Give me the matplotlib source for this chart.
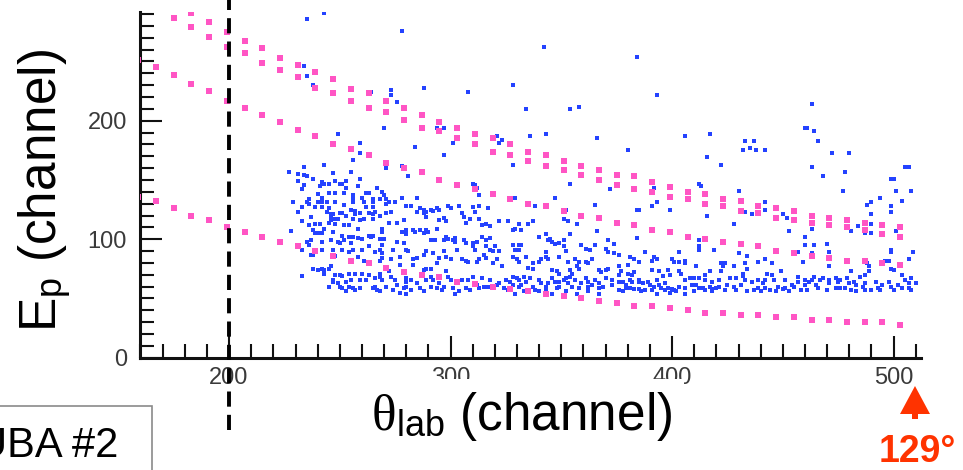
import matplotlib
matplotlib.use("Agg")
import matplotlib.pyplot as plt
from matplotlib.patches import Rectangle, Polygon
from matplotlib.ticker import MultipleLocator

plt.rcParams['font.family'] = ['Liberation Sans', 'DejaVu Sans']
plt.rcParams['mathtext.fontset'] = 'custom'
plt.rcParams['mathtext.sf'] = 'Liberation Sans'
plt.rcParams['mathtext.rm'] = 'Liberation Serif'
plt.rcParams['mathtext.it'] = 'Liberation Serif:italic'

# --- kinematic lines (theta channel columns, energy channel) ---
col_x = [159, 167, 175, 183, 191, 199, 207, 215, 223, 231, 239, 247, 255, 263,
         271, 279, 287, 295, 303, 311, 319, 327, 335, 343, 351, 359, 367, 375,
         383, 391, 399, 407, 415, 423, 431, 439, 447, 455, 463, 471, 479, 487,
         495, 503]

line_a_hi = [291, 283, 275, 267, 261, 253, 247, 241, 235, 227, 223, 217, 211, 205,
             199, 194, 189, 185, 180, 174, 171, 166, 162, 158, 154, 153, 148, 144,
             140, 138, 134, 132, 128, 126, 124, 120, 118, 116, 114, 112, 110]
line_a_lo = [287, 279, 271, 262, 257, 249, 243, 237, 228, 223, 217, 211, 207, 201,
             194, 191, 185, 180, 174, 171, 166, 162, 158, 154, 150, 146, 142, 140,
             136, 134, 130, 128, 124, 122, 118, 116, 114, 112, 110, 108, 104, 102]
line_b = [251, 245, 239, 231, 225, 217, 211, 205, 199, 192, 187, 180, 176, 171,
          164, 160, 157, 150, 146, 142, 138, 134, 130, 128, 124, 120, 118, 114,
          112, 108, 106, 102, 100, 98, 96, 94, 90, 88, 86, 84, 82, 82, 80, 78]
line_c = [136, 132, 126, 120, 116, 110, 106, 102, 98, 94, 90, 86, 82, 80,
          76, 72, 70, 68, 64, 62, 60, 58, 56, 54, 52, 50, 48, 46,
          44, 44, 42, 40, 38, 38, 36, 36, 34, 34, 32, 32, 30, 30, 30, 28]

# --- measured events (theta channel, energy channel) ---
hits_227_272 = [
    (243, 163), (234, 161), (227, 157), (231, 155), (234, 154), (235, 153), (247, 156), (255, 157),
    (259, 151), (231, 149), (238, 151), (242, 148), (243, 147), (245, 147), (248, 149), (250, 147),
    (251, 147), (253, 149), (234, 146), (241, 145), (258, 145), (233, 142), (253, 143), (267, 143),
    (240, 138), (245, 139), (248, 139), (252, 139), (256, 137), (256, 135), (262, 139), (263, 139),
    (269, 140), (270, 137), (260, 135), (236, 134), (242, 135), (271, 134), (229, 131), (235, 131),
    (236, 130), (240, 131), (242, 131), (244, 131), (248, 131), (252, 129), (256, 131), (261, 131),
    (265, 134), (265, 131), (268, 134), (271, 130), (272, 131), (233, 127), (239, 127), (242, 127),
    (245, 126), (255, 125), (262, 127), (265, 127), (231, 123), (244, 123), (246, 121), (247, 121),
    (250, 122), (251, 122), (257, 124), (257, 121), (259, 122), (263, 122), (265, 121), (266, 123),
    (268, 120), (271, 122), (237, 119), (246, 118), (248, 117), (249, 117), (253, 120), (256, 117),
    (259, 116), (261, 117), (265, 117), (233, 115), (236, 112), (239, 113), (241, 113), (245, 114),
    (246, 116), (248, 113), (252, 112), (254, 112), (258, 109), (269, 109), (269, 106), (272, 114),
    (228, 107), (238, 108), (239, 105), (240, 105), (242, 105), (243, 109), (247, 106), (251, 103),
    (254, 102), (256, 102), (258, 101), (263, 103), (264, 102), (265, 103), (260, 100), (268, 100),
    (270, 100), (235, 98), (237, 99), (242, 98), (246, 99), (249, 98), (250, 97), (252, 99),
    (255, 97), (263, 94), (269, 95), (233, 91), (236, 95), (237, 87), (238, 87), (242, 91),
    (247, 91), (251, 91), (254, 89), (256, 91), (260, 91), (266, 89), (268, 91), (269, 88),
    (247, 87), (248, 86), (258, 85), (261, 82), (268, 82), (269, 84), (238, 75), (240, 74),
    (242, 75), (243, 74), (245, 75), (246, 77), (233, 69), (243, 71), (248, 70), (250, 70),
    (251, 69), (254, 71), (257, 71), (260, 71), (263, 70), (268, 71), (268, 68), (272, 73),
    (247, 66), (247, 64), (249, 63), (253, 64), (255, 66), (259, 66), (262, 66), (266, 67),
    (269, 66), (245, 60), (250, 60), (251, 59), (254, 60), (256, 59), (257, 57), (259, 59),
    (265, 59), (266, 60), (267, 57), (268, 56), (271, 60), (253, 56),
]
hits_273_321 = [
    (285, 135), (278, 135), (275, 131), (280, 128), (282, 128), (285, 123), (286, 126), (288, 125),
    (289, 123), (291, 125), (292, 124), (288, 122), (289, 119), (294, 126), (295, 125), (299, 128),
    (300, 126), (304, 128), (305, 122), (306, 119), (310, 127), (311, 123), (313, 128), (317, 126),
    (313, 137), (311, 146), (273, 123), (276, 114), (279, 116), (295, 116), (297, 118), (298, 115),
    (307, 114), (309, 117), (313, 117), (314, 112), (316, 113), (318, 111), (280, 108), (278, 106),
    (283, 108), (284, 106), (286, 108), (288, 105), (289, 108), (290, 106), (294, 109), (297, 99),
    (298, 102), (299, 100), (301, 99), (302, 98), (302, 101), (306, 99), (307, 97), (310, 97),
    (312, 98), (314, 102), (316, 99), (318, 101), (291, 99), (293, 99), (280, 104), (279, 97),
    (280, 91), (281, 90), (276, 98), (274, 91), (277, 85), (283, 83), (285, 84), (288, 87),
    (289, 90), (292, 88), (295, 84), (297, 90), (298, 85), (300, 83), (303, 91), (305, 83),
    (307, 82), (308, 81), (310, 94), (312, 81), (313, 83), (315, 87), (316, 94), (318, 91),
    (319, 90), (320, 94), (321, 83), (316, 84), (319, 80), (311, 91), (294, 80), (291, 75),
    (289, 75), (288, 74), (283, 78), (277, 78), (273, 83), (280, 67), (280, 64), (280, 60),
    (279, 59), (276, 61), (274, 57), (282, 66), (289, 66), (291, 68), (292, 66), (295, 63),
    (297, 60), (296, 57), (294, 59), (298, 73), (299, 68), (300, 66), (301, 59), (305, 66),
    (307, 59), (309, 57), (312, 61), (313, 59), (315, 60), (317, 60), (318, 60), (319, 59),
    (321, 61), (282, 57), (288, 56), (302, 54), (304, 56), (280, 54), (291, 60), (286, 59),
    (285, 63), (310, 68), (308, 66), (314, 67), (318, 66), (275, 66), (273, 68), (277, 55),
]
hits_322_370 = [
    (354, 147), (329, 135), (347, 135), (338, 128), (365, 129), (352, 125), (351, 117), (353, 115),
    (357, 113), (366, 107), (354, 104), (322, 115), (326, 115), (328, 108), (329, 109), (331, 113),
    (332, 108), (335, 113), (337, 115), (340, 102), (343, 104), (344, 99), (346, 98), (347, 96),
    (345, 100), (349, 97), (351, 99), (351, 94), (352, 90), (359, 95), (361, 92), (363, 91),
    (365, 95), (370, 92), (328, 95), (331, 95), (332, 95), (329, 91), (331, 91), (322, 90),
    (328, 85), (330, 83), (331, 81), (334, 85), (323, 77), (335, 76), (337, 80), (337, 75),
    (340, 81), (341, 83), (343, 89), (343, 85), (344, 83), (349, 85), (346, 74), (348, 73),
    (349, 71), (353, 81), (354, 74), (355, 71), (356, 83), (357, 77), (358, 81), (361, 81),
    (362, 80), (364, 83), (367, 74), (368, 72), (370, 74), (358, 75), (325, 66), (327, 64),
    (328, 68), (330, 67), (331, 66), (333, 68), (334, 64), (336, 67), (322, 63), (324, 59),
    (328, 61), (331, 60), (332, 61), (337, 60), (338, 57), (340, 66), (341, 63), (343, 60),
    (344, 63), (346, 67), (347, 64), (348, 59), (349, 60), (351, 66), (352, 67), (353, 63),
    (355, 60), (356, 66), (358, 59), (359, 63), (361, 67), (362, 64), (362, 60), (364, 61),
    (365, 66), (367, 63), (367, 59), (369, 60), (370, 67), (329, 54), (333, 56), (340, 56),
    (346, 54), (352, 56), (357, 54), (362, 56), (367, 54), (326, 57), (335, 57), (343, 56),
    (349, 64), (354, 68),
]
hits_371_418 = [
    (393, 131), (391, 128), (384, 125), (385, 125), (399, 125), (416, 120), (384, 101), (371, 99),
    (374, 96), (371, 89), (374, 88), (376, 87), (388, 89), (392, 85), (393, 83), (391, 82),
    (383, 83), (385, 81), (381, 85), (400, 83), (401, 81), (403, 81), (403, 89), (406, 82),
    (406, 80), (412, 91), (412, 94), (411, 77), (371, 75), (376, 77), (377, 73), (376, 70),
    (380, 78), (380, 71), (382, 70), (383, 72), (391, 74), (394, 73), (398, 74), (399, 70),
    (396, 69), (393, 66), (403, 73), (404, 71), (406, 66), (408, 67), (410, 67), (412, 67),
    (415, 66), (415, 70), (417, 73), (418, 64), (373, 66), (376, 64), (378, 64), (379, 61),
    (379, 59), (381, 66), (382, 64), (385, 66), (385, 64), (387, 63), (389, 64), (390, 61),
    (392, 60), (394, 61), (395, 59), (397, 63), (398, 59), (400, 58), (401, 57), (402, 56),
    (403, 60), (406, 59), (409, 61), (411, 61), (412, 59), (414, 59), (415, 57), (417, 60),
    (418, 58), (373, 61), (376, 57), (378, 56), (381, 59), (383, 58), (386, 56), (388, 57),
    (391, 57), (393, 54), (397, 57), (399, 55), (406, 54), (410, 56), (418, 56), (385, 58),
]
hits_419_467 = [
    (442, 131), (442, 125), (433, 123), (450, 121), (452, 118), (428, 113), (453, 107), (463, 109),
    (460, 102), (460, 95), (464, 95), (419, 91), (430, 88), (434, 86), (439, 81), (442, 83),
    (445, 80), (457, 89), (463, 88), (459, 81), (422, 80), (423, 77), (424, 80), (428, 77),
    (433, 80), (434, 75), (432, 71), (433, 66), (432, 69), (426, 67), (425, 61), (428, 60),
    (422, 73), (421, 66), (421, 60), (431, 61), (436, 64), (437, 57), (439, 59), (442, 59),
    (443, 71), (442, 66), (445, 70), (446, 66), (448, 60), (449, 73), (451, 66), (451, 59),
    (454, 61), (455, 60), (457, 64), (457, 68), (460, 66), (462, 64), (463, 66), (464, 68),
    (465, 61), (466, 59), (467, 66), (429, 67), (439, 66), (441, 63), (444, 57), (450, 58),
    (458, 57), (461, 57), (424, 57), (434, 56), (440, 56), (447, 56), (453, 56), (460, 61),
    (429, 57), (420, 59),
]
hits_468_510 = [
    (488, 129), (490, 131), (499, 128), (504, 132), (490, 121), (484, 111), (481, 107), (490, 105),
    (501, 107), (470, 96), (471, 89), (471, 77), (499, 91), (499, 89), (509, 89), (507, 83),
    (498, 82), (496, 82), (495, 80), (488, 80), (489, 77), (489, 73), (481, 73), (485, 68),
    (487, 70), (499, 75), (500, 74), (504, 70), (505, 66), (508, 67), (510, 63), (468, 67),
    (471, 66), (471, 63), (474, 67), (475, 64), (476, 66), (479, 67), (480, 63), (482, 64),
    (483, 61), (470, 57), (474, 59), (476, 59), (478, 59), (481, 57), (483, 56), (486, 60),
    (487, 57), (490, 57), (493, 59), (495, 61), (494, 57), (498, 64), (499, 60), (500, 57),
    (502, 61), (504, 59), (507, 59), (508, 57), (487, 63), (492, 64), (507, 63),
]
hits_sparse = [
    (235, 286), (243, 291), (278, 276), (342, 262), (234, 246), (235, 238), (238, 230), (264, 224),
    (273, 226), (273, 222), (288, 228), (308, 224), (328, 230), (276, 216), (334, 210), (354, 210),
    (358, 212), (249, 189), (270, 194), (294, 194), (297, 194), (259, 181), (284, 178), (301, 181),
    (297, 171), (321, 187), (322, 181), (323, 184), (336, 187), (343, 189), (366, 185), (380, 175),
    (259, 173), (256, 167), (271, 160), (278, 162), (281, 153), (328, 163), (310, 147), (312, 143),
    (372, 142), (384, 254), (393, 222), (463, 214), (406, 187), (417, 189), (433, 183), (437, 183),
    (435, 177), (432, 175), (438, 175), (442, 175), (460, 194), (461, 194), (464, 191), (466, 183),
    (472, 173), (480, 173), (416, 169), (422, 163), (463, 161), (468, 153), (478, 157), (505, 161),
    (507, 161), (499, 151), (500, 151), (501, 141), (508, 141), (477, 141), (494, 135), (412, 147),
    (413, 145), (392, 143), (430, 141), (436, 121), (499, 123), (490, 113), (487, 105), (412, 99),
]

x_ticks = [200, 300, 400, 500]
y_ticks = [0, 100, 200]

BLUE = '#2442ff'
PINK = '#ff55c4'
RED = '#ff3300'

fig = plt.figure(figsize=(9.63, 4.70), dpi=100)
ax = fig.add_axes([0.1454, 0.2389, 0.8110, 0.7362])

hits = (hits_227_272 + hits_273_321 + hits_322_370 + hits_371_418
        + hits_419_467 + hits_468_510 + hits_sparse)
hx = [h[0] for h in hits]
hy = [h[1] for h in hits]
ax.plot(hx, hy, 's', ms=2.6, mew=0, color=BLUE, zorder=2)

for xs, ys in [(col_x[3:], line_a_hi), (col_x[2:], line_a_lo),
               (col_x, line_b), (col_x, line_c)]:
    ax.plot(xs, ys, 's', ms=3.8, mew=0, color=PINK, zorder=3)

# cut at theta channel 200
ax.plot([200, 200], [-61, 302], color='black', lw=2.8,
        ls=(0, (3.9, 2.1)), clip_on=False, zorder=6)

ax.set_xlim(159.8, 512.4)
ax.set_ylim(0, 292)
ax.set_xticks(x_ticks)
ax.set_yticks(y_ticks)
ax.xaxis.set_minor_locator(MultipleLocator(10))
ax.yaxis.set_minor_locator(MultipleLocator(10))
ax.tick_params(which='both', direction='in', width=1.5, color='#111111',
               labelsize=17, labelcolor='#3a3a3a')
ax.tick_params(which='major', length=16)
ax.tick_params(which='minor', length=9.8)
ax.tick_params(axis='x', pad=6.5)
ax.tick_params(axis='y', pad=9.5)
for side in ['top', 'right']:
    ax.spines[side].set_visible(False)
for side in ['left', 'bottom']:
    ax.spines[side].set_linewidth(2.2)
    ax.spines[side].set_color('#111111')

W, H = 963.0, 470.0

fig.text(45 / W, 1 - 190 / H, r'$\mathsf{E}_\mathsf{p}$ (channel)', rotation=90,
         ha='center', va='center', fontsize=37)
fig.text(371 / W, 1 - 430 / H, r'$\mathrm{\theta}_\mathsf{lab}$ (channel)',
         ha='left', va='baseline', fontsize=37,
         bbox=dict(boxstyle='square,pad=0.22', fc='white', ec='none'))

# detector tag, bottom left
fig.add_artist(Rectangle((-10 / W, -0.05), 162 / W, (470 - 406) / H + 0.05,
                         transform=fig.transFigure, fill=False,
                         ec='#8a8a8a', lw=1.2))
fig.text(118 / W, 1 - 457 / H, 'UBA #2', ha='right', va='baseline', fontsize=30)

# arrow and angle at the end of the theta axis
tri = [(915 / W, 1 - 386 / H), (900 / W, 1 - 414 / H), (912 / W, 1 - 414 / H),
       (912 / W, 1 - 419 / H), (918 / W, 1 - 419 / H), (918 / W, 1 - 414 / H),
       (930 / W, 1 - 414 / H)]
fig.add_artist(Polygon(tri, closed=True, transform=fig.transFigure,
                       fc=RED, ec='none'))
fig.text(879 / W, 1 - 462 / H, '129°', color=RED, fontsize=27,
         fontweight='bold', ha='left', va='baseline')

fig.savefig('out.png', dpi=100)
